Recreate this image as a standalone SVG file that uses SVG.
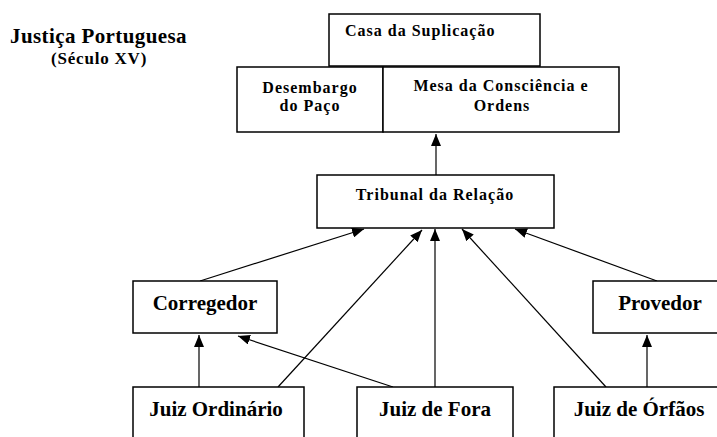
<svg xmlns="http://www.w3.org/2000/svg" width="717" height="437" viewBox="0 0 717 437">
<style>
.box{fill:#fff;stroke:#000;stroke-width:1.5}
.s{font-size:16px;letter-spacing:1px}
.b{font-size:21px}
.c{text-anchor:middle}
.ln{fill:none;stroke:#000;stroke-width:1.2}
</style>
<defs>
<marker id="ah" markerUnits="userSpaceOnUse" markerWidth="12" markerHeight="10" refX="12" refY="5" orient="auto">
<path d="M0,0 L12,5 L0,10 z" fill="#000"/>
</marker>
</defs>
<rect width="717" height="437" fill="#fff"/>
<g font-family="Liberation Serif, Times New Roman, serif" font-weight="bold" fill="#000">
<g id="title">
<text x="10" y="43" font-size="21" letter-spacing="0.4">Justiça Portuguesa</text>
<text x="51" y="64" font-size="17" letter-spacing="0.8">(Século XV)</text>
</g>
<g id="connectors">
<line class="ln" x1="436" y1="175" x2="436" y2="134" marker-end="url(#ah)"/>
<line class="ln" x1="200" y1="281" x2="364" y2="229" marker-end="url(#ah)"/>
<line class="ln" x1="278" y1="387" x2="422" y2="230" marker-end="url(#ah)"/>
<line class="ln" x1="435" y1="387" x2="435" y2="229" marker-end="url(#ah)"/>
<line class="ln" x1="606" y1="387" x2="462" y2="229" marker-end="url(#ah)"/>
<line class="ln" x1="657" y1="281" x2="515" y2="229" marker-end="url(#ah)"/>
<line class="ln" x1="199" y1="387" x2="199" y2="335" marker-end="url(#ah)"/>
<line class="ln" x1="393" y1="387" x2="238" y2="336" marker-end="url(#ah)"/>
<line class="ln" x1="647" y1="387" x2="647" y2="335" marker-end="url(#ah)"/>
</g>
<g id="casa">
<rect class="box" x="329" y="14" width="211" height="52"/>
<text class="s" x="345" y="36">Casa da Suplicação</text>
</g>
<g id="desembargo">
<rect class="box" x="237" y="67" width="146" height="65"/>
<text class="s c" x="310" y="93">Desembargo</text>
<text class="s c" x="310" y="111">do Paço</text>
</g>
<g id="mesa">
<rect class="box" x="383" y="67" width="236" height="65"/>
<text class="s c" x="501" y="91">Mesa da Consciência e</text>
<text class="s c" x="502" y="111">Ordens</text>
</g>
<g id="tribunal">
<rect class="box" x="317" y="175" width="237" height="53"/>
<text class="s c" x="435" y="200">Tribunal da Relação</text>
</g>
<g id="corregedor">
<rect class="box" x="133" y="281" width="144" height="52"/>
<text class="b c" x="205" y="310">Corregedor</text>
</g>
<g id="provedor">
<rect class="box" x="593" y="281" width="140" height="52"/>
<text class="b c" x="660" y="310">Provedor</text>
</g>
<g id="juiz-ordinario">
<rect class="box" x="133" y="387" width="171" height="70"/>
<text class="b c" x="216" y="416">Juiz Ordinário</text>
</g>
<g id="juiz-de-fora">
<rect class="box" x="357" y="387" width="156" height="70"/>
<text class="b c" x="435" y="416">Juiz de Fora</text>
</g>
<g id="juiz-de-orfaos">
<rect class="box" x="554" y="387" width="180" height="70"/>
<text class="b c" x="639" y="416">Juiz de Órfãos</text>
</g>
</g>
</svg>
